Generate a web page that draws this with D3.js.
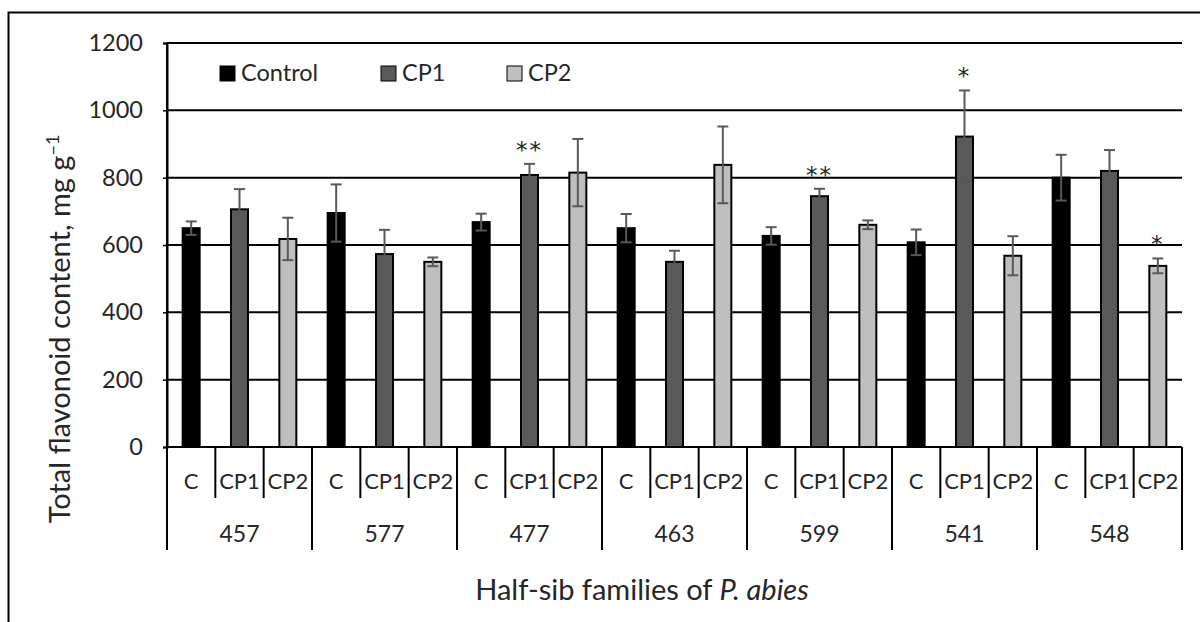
<!DOCTYPE html>
<html>
<head>
<meta charset="utf-8">
<script src="https://cdn.jsdelivr.net/npm/d3@7"></script>
<style>
  html, body { margin: 0; padding: 0; background: #fff; }
  svg { display: block; }
  text { font-family: Lato, "Open Sans", sans-serif; }
</style>
</head>
<body>
<svg id="chart" width="1200" height="622"></svg>
<script>
// ---- data ----
const families = ["457", "577", "477", "463", "599", "541", "548"];
const treatments = ["C", "CP1", "CP2"];
const seriesNames = ["Control", "CP1", "CP2"];
const controlMean = [650, 695, 668, 650, 627, 608, 800];
const controlErr  = [20, 85, 25, 42, 26, 38, 68];
const cp1Mean = [706, 573, 808, 550, 745, 922, 820];
const cp1Err  = [60, 72, 33, 33, 22, 137, 62];
const cp2Mean = [618, 550, 815, 838, 660, 568, 538];
const cp2Err  = [63, 13, 100, 114, 13, 58, 22];
const controlSig = ["", "", "", "", "", "", ""];
const cp1Sig = ["", "", "**", "", "**", "*", ""];
const cp2Sig = ["", "", "", "", "", "", "*"];
const yTicks = [0, 200, 400, 600, 800, 1000, 1200];
const yTitle = "Total flavonoid content, mg g";
const xTitleA = "Half-sib families of ";
const xTitleB = "P. abies";

// ---- build rows ----
const means = [controlMean, cp1Mean, cp2Mean];
const errs = [controlErr, cp1Err, cp2Err];
const sigs = [controlSig, cp1Sig, cp2Sig];
const colors = ["#000000", "#595959", "#bfbfbf"];
const rows = [];
families.forEach((f, fi) => {
  treatments.forEach((t, ti) => {
    rows.push({ key: f + "-" + t, family: f, treat: t, s: ti,
      mean: means[ti][fi], err: errs[ti][fi], sig: sigs[ti][fi] });
  });
});

const svg = d3.select("#chart");
const L = 167, R = 1182, T = 43, B = 447;

const x = d3.scaleBand().domain(rows.map(d => d.key)).range([L, R]).padding(0);
const xg = d3.scaleBand().domain(families).range([L, R]).padding(0);
const y = d3.scaleLinear().domain([0, 1200]).range([B, T]);
const barW = 17;

// outer frame
svg.append("rect").attr("x", 8.5).attr("y", 12.5).attr("width", 1200).attr("height", 620)
  .attr("fill", "none").attr("stroke", "#000").attr("stroke-width", 2);

// gridlines
svg.append("g").selectAll("line").data(yTicks.filter(v => v > 0)).join("line")
  .attr("x1", L).attr("x2", R).attr("y1", d => y(d)).attr("y2", d => y(d))
  .attr("stroke", "#000").attr("stroke-width", 2);

// y axis
const yAxis = svg.append("g").attr("transform", `translate(${L},0)`)
  .call(d3.axisLeft(y).tickValues(yTicks).tickSize(4).tickPadding(20).tickFormat(d3.format("d")));
yAxis.select(".domain").attr("stroke", "#000").attr("stroke-width", 2);
yAxis.selectAll(".tick line").attr("stroke", "#000").attr("stroke-width", 1.5);
yAxis.selectAll(".tick text").attr("font-size", 23.5).attr("fill", "#262626")
  .style("font-family", "Lato, sans-serif");

// bars
svg.append("g").selectAll("rect").data(rows).join("rect")
  .attr("x", d => x(d.key) + x.bandwidth() / 2 - barW / 2)
  .attr("width", barW)
  .attr("y", d => y(d.mean))
  .attr("height", d => y(0) - y(d.mean))
  .attr("fill", d => colors[d.s])
  .attr("stroke", "#000").attr("stroke-width", 2);

// error bars
const eg = svg.append("g").attr("stroke", "#595959").attr("stroke-width", 2);
rows.forEach(d => {
  const cx = x(d.key) + x.bandwidth() / 2;
  eg.append("line").attr("x1", cx).attr("x2", cx)
    .attr("y1", y(d.mean - d.err)).attr("y2", y(d.mean + d.err));
  [d.mean - d.err, d.mean + d.err].forEach(v => {
    eg.append("line").attr("x1", cx - 5.5).attr("x2", cx + 5.5)
      .attr("y1", y(v)).attr("y2", y(v));
  });
});

// significance marks
svg.append("g").selectAll("text").data(rows.filter(d => d.sig)).join("text")
  .attr("x", d => x(d.key) + x.bandwidth() / 2)
  .attr("y", d => y(d.mean + d.err) - 6)
  .attr("text-anchor", "middle").attr("font-size", 23).attr("fill", "#222")
  .style("font-family", "'DejaVu Sans', sans-serif")
  .attr("letter-spacing", 2)
  .text(d => d.sig);

// x axis baseline
svg.append("line").attr("x1", L).attr("x2", R).attr("y1", B).attr("y2", B)
  .attr("stroke", "#000").attr("stroke-width", 2);

// category separators (inner, short)
const sepG = svg.append("g").attr("stroke", "#000").attr("stroke-width", 2);
rows.forEach(d => {
  if (d.s > 0) {
    sepG.append("line").attr("x1", x(d.key)).attr("x2", x(d.key))
      .attr("y1", B).attr("y2", 498);
  }
});
// group separators (long)
const gEdges = families.map(f => xg(f)).concat([R]);
sepG.selectAll(".g").data(gEdges).join("line")
  .attr("x1", d => d).attr("x2", d => d).attr("y2", 550)
  .attr("y1", (d, i) => i === 0 ? T : B);

// category labels
svg.append("g").selectAll("text").data(rows).join("text")
  .attr("x", d => x(d.key) + x.bandwidth() / 2)
  .attr("y", 489).attr("text-anchor", "middle")
  .attr("font-size", 22).attr("fill", "#262626")
  .text(d => d.treat);

// group labels
svg.append("g").selectAll("text").data(families).join("text")
  .attr("x", d => xg(d) + xg.bandwidth() / 2)
  .attr("y", 542).attr("text-anchor", "middle")
  .attr("font-size", 23).attr("fill", "#262626")
  .text(d => d);

// legend
const leg = svg.append("g");
const legX = [220, 381, 507];
seriesNames.forEach((n, i) => {
  leg.append("rect").attr("x", legX[i]).attr("y", 66).attr("width", 15).attr("height", 15)
    .attr("fill", colors[i]).attr("stroke", "#000").attr("stroke-width", 1);
  leg.append("text").attr("x", legX[i] + 21).attr("y", 81)
    .attr("font-size", 23.5).attr("fill", "#262626").text(n);
});

// y title
const yt = svg.append("text")
  .attr("transform", "translate(70,329) rotate(-90)")
  .attr("text-anchor", "middle").attr("font-size", 29).attr("fill", "#262626");
yt.append("tspan").text(yTitle);
yt.append("tspan").attr("font-size", 18).attr("dy", -11).text("\u22121");

// x title
const xt = svg.append("text").attr("x", 642).attr("y", 600)
  .attr("text-anchor", "middle").attr("font-size", 29).attr("fill", "#262626");
xt.append("tspan").text(xTitleA);
xt.append("tspan").attr("font-style", "italic").text(xTitleB);
</script>
</body>
</html>
